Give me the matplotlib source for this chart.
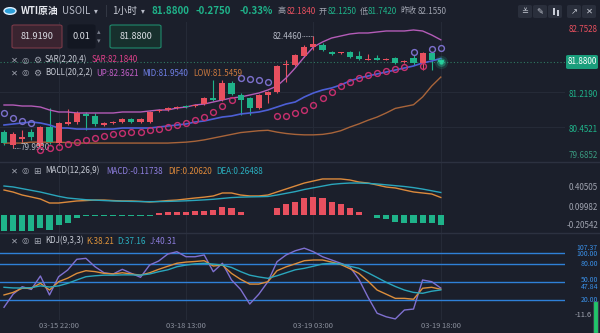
import numpy as np
import matplotlib.pyplot as plt
from matplotlib.patches import FancyBboxPatch, Circle, Rectangle
from matplotlib.lines import Line2D

plt.rcParams['font.family'] = ['Noto Sans CJK SC', 'DejaVu Sans']

# ---- data (1h bars, WTI) ----
opens = [80.34, 80.06, 80.19, 80.34, 80.04, 80.45, 80.10, 80.52, 80.56, 80.74,
         80.69, 80.50, 80.53, 80.56, 80.63, 80.56, 80.56, 80.80, 80.82, 80.87,
         80.92, 80.91, 80.95, 81.09, 81.04, 81.42, 81.15, 81.09, 80.87, 81.15,
         81.22, 81.80, 81.80, 82.01, 82.21, 82.25, 82.10, 82.07, 82.10, 82.01,
         81.92, 81.96, 81.93, 81.96, 81.87, 81.96, 81.85, 82.07, 81.93]
highs = [80.39, 80.34, 80.39, 80.40, 80.48, 80.87, 80.56, 80.85, 80.80, 80.78,
         80.76, 80.56, 80.58, 80.65, 80.66, 80.65, 80.80, 80.85, 80.89, 80.91,
         80.94, 80.96, 81.10, 81.48, 81.48, 81.46, 81.20, 81.12, 81.18, 81.25,
         81.82, 81.92, 82.05, 82.25, 82.446, 82.30, 82.12, 82.10, 82.12, 82.12,
         82.06, 82.04, 81.97, 81.98, 81.92, 82.02, 82.10, 82.10, 81.95]
lows = [80.06, 79.992, 80.10, 80.17, 80.00, 80.08, 80.06, 80.50, 80.52, 80.38,
        80.48, 80.47, 80.51, 80.54, 80.54, 80.54, 80.54, 80.78, 80.80, 80.85,
        80.87, 80.89, 80.93, 81.03, 81.02, 81.15, 80.72, 80.72, 80.85, 80.98,
        81.20, 81.44, 81.78, 81.99, 82.15, 82.12, 82.03, 82.06, 81.97, 81.93,
        81.91, 81.91, 81.92, 81.84, 81.85, 81.82, 81.70, 81.70, 81.85]
closes = [80.10, 80.30, 80.23, 80.23, 80.45, 80.12, 80.54, 80.56, 80.75, 80.69,
          80.52, 80.53, 80.56, 80.63, 80.56, 80.63, 80.79, 80.83, 80.87, 80.89,
          80.89, 80.94, 81.09, 81.05, 81.42, 81.18, 81.05, 80.87, 81.15, 81.22,
          81.79, 81.83, 82.03, 82.21, 82.26, 82.14, 82.05, 82.09, 81.99, 81.94,
          81.94, 81.92, 81.95, 81.85, 81.90, 81.85, 82.08, 81.93, 81.88]

boll_up = [80.934, 80.934, 80.912, 80.912, 80.890, 80.825, 80.781, 80.781, 80.759, 80.759,
           80.759, 80.759, 80.759, 80.781, 80.781, 80.781, 80.803, 80.825, 80.825, 80.868,
           80.890, 80.934, 80.956, 81.000, 81.044, 81.088, 81.110, 81.153, 81.197, 81.263,
           81.350, 81.526, 81.745, 81.986, 82.205, 82.315, 82.402, 82.446, 82.490, 82.512,
           82.512, 82.534, 82.556, 82.556, 82.556, 82.578, 82.556, 82.468, 82.3621]
boll_mid = [80.496, 80.518, 80.540, 80.562, 80.540, 80.496, 80.430, 80.430, 80.408, 80.408,
            80.408, 80.408, 80.408, 80.430, 80.430, 80.430, 80.430, 80.452, 80.474, 80.496,
            80.518, 80.562, 80.584, 80.628, 80.671, 80.693, 80.737, 80.759, 80.781, 80.825,
            80.890, 80.956, 81.000, 81.110, 81.197, 81.263, 81.307, 81.373, 81.460, 81.526,
            81.570, 81.614, 81.657, 81.701, 81.745, 81.789, 81.855, 81.898, 81.954]
boll_low = [80.10, 80.10, 80.10, 80.12, 80.12, 80.12, 80.12, 80.11, 80.10, 80.10,
            80.10, 80.10, 80.10, 80.10, 80.10, 80.10, 80.10, 80.10, 80.10, 80.11,
            80.12, 80.14, 80.17, 80.21, 80.25, 80.29, 80.33, 80.35, 80.37, 80.38,
            80.34, 80.31, 80.29, 80.28, 80.28, 80.29, 80.32, 80.37, 80.45, 80.52,
            80.60, 80.67, 80.76, 80.86, 80.90, 80.94, 81.11, 81.35, 81.5459]
sar = [80.759, 80.650, 80.584, 80.540, 79.948, 79.992, 80.014, 80.080, 80.124, 80.167,
       80.211, 80.255, 80.299, 80.321, 80.343, 80.343, 80.386, 80.408, 80.452, 80.496,
       80.540, 80.606, 80.671, 80.781, 80.912, 81.044, 81.526, 81.504, 81.482, 81.438,
       80.693, 80.693, 80.759, 80.825, 80.934, 81.088, 81.219, 81.350, 81.438, 81.526,
       81.592, 81.635, 81.679, 81.723, 81.767, 82.095, 81.789, 82.161, 82.184]

dif = [0.294, 0.27, 0.235, 0.212, 0.188, 0.141, 0.141, 0.153, 0.165, 0.17,
       0.176, 0.176, 0.17, 0.165, 0.165, 0.16, 0.153, 0.16, 0.17, 0.176,
       0.188, 0.2, 0.21, 0.224, 0.259, 0.259, 0.235, 0.224, 0.224, 0.235,
       0.271, 0.306, 0.341, 0.376, 0.4, 0.424, 0.424, 0.424, 0.412, 0.388,
       0.376, 0.353, 0.329, 0.318, 0.294, 0.271, 0.259, 0.247, 0.2062]
dea = [0.341, 0.33, 0.31, 0.29, 0.27, 0.245, 0.22, 0.2, 0.19, 0.18,
       0.175, 0.17, 0.165, 0.162, 0.16, 0.158, 0.157, 0.158, 0.16, 0.163,
       0.167, 0.172, 0.178, 0.185, 0.195, 0.205, 0.21, 0.213, 0.215, 0.218,
       0.235, 0.255, 0.275, 0.3, 0.32, 0.34, 0.36, 0.37, 0.376, 0.376,
       0.372, 0.365, 0.355, 0.345, 0.335, 0.322, 0.305, 0.285, 0.26488]
macd_hist = [-0.19, -0.19, -0.19, -0.19, -0.15, -0.18, -0.12, -0.09, -0.04, -0.012,
             -0.012, -0.012, -0.012, -0.012, -0.012, -0.012, -0.012, 0.02, 0.035, 0.035,
             0.035, 0.045, 0.05, 0.056, 0.09, 0.08, 0.035, -0.005, -0.005, 0.005,
             0.08, 0.125, 0.155, 0.205, 0.215, 0.195, 0.15, 0.125, 0.08, 0.03,
             -0.005, -0.03, -0.05, -0.08, -0.098, -0.098, -0.098, -0.098, -0.11738]

k_vals = [28.7, 33, 40, 40, 48.3, 37, 51, 57, 65, 69.5,
          68, 65, 64, 66, 64, 62, 66, 71.8, 77, 82,
          84, 85, 86.3, 77.4, 79, 65, 55, 47, 47, 51,
          69.5, 76, 81, 86.3, 87.5, 87.5, 84, 80, 73, 65,
          52, 37, 30, 23, 23, 21.5, 40, 41.6, 38.21]
d_vals = [41.6, 40.5, 40.4, 41, 44, 42, 44, 48.3, 54, 59.4,
          61, 62, 62, 62.5, 62.5, 62, 64, 67.8, 71, 76.2,
          79, 81, 82, 80.5, 79, 75, 68, 62, 59, 56.7,
          61, 66, 71, 73.5, 77, 80.8, 82, 81, 77, 73.5,
          66, 58, 50, 43, 37, 33, 31.5, 35, 37.16]
j_vals = [8, 30, 42.6, 38, 60.6, 28.7, 59.4, 70.7, 88.7, 90.3,
          76.2, 66, 64, 71.8, 65, 58.4, 79, 85.8, 97.6, 101.4,
          93, 93, 96, 67.8, 82, 54, 38, 13.5, 30, 51,
          84.6, 96, 103, 107.37, 101.4, 93, 87.5, 82, 76.2, 55,
          25, -2, -8, -11.6, 3.4, 5, 53.9, 51, 40.31]

time_idx = [6, 20, 34, 48]
time_labels = ['03-15 22:00', '03-18 13:00', '03-19 03:00', '03-19 18:00']
price_ticks = [82.7528, 81.2190, 80.4521, 79.6852]
macd_ticks = ['0.40505', '0.09982', '-0.20542']
kdj_levels = [100, 80, 50, 20]

# ---- colours ----
BG = '#1b1f2b'
GRID = '#252a37'
UPC = '#e8505f'
DNC = '#1fb38a'
GRAY = '#b4b8c4'

W, H = 600, 333
fig = plt.figure(figsize=(6, 3.33), dpi=100, facecolor=BG)


def px_axes(x0, y0, x1, y1):
    ax = fig.add_axes([x0 / W, 1 - y1 / H, (x1 - x0) / W, (y1 - y0) / H])
    ax.set_facecolor(BG)
    ax.set_axis_off()
    ax.set_xlim(-0.44, (x1 - 4) / 9.1)
    return ax


def ftext(x, y, s, color=GRAY, size=6, **kw):
    kw.setdefault('va', 'center')
    return fig.text(x / W, 1 - y / H, s, color=color, fontsize=size, **kw)


def fbox(x0, y0, w, h, fc, ec='none', lw=0):
    fig.add_artist(FancyBboxPatch((x0 / W, 1 - (y0 + h) / H), w / W, h / H,
                                  boxstyle='round,pad=0,rounding_size=0.004',
                                  transform=fig.transFigure, facecolor=fc,
                                  edgecolor=ec, lw=lw))


x = np.arange(len(closes))
o, h, l, c = map(np.array, (opens, highs, lows, closes))
up = c >= o
cols = np.where(up, UPC, DNC)

# ---- main price panel ----
ax = px_axes(0, 22, 565, 162)
ax.set_ylim(79.6852, 82.7528)
for t in time_idx:
    ax.axvline(t, color=GRID, lw=0.8, zorder=0)
for p in price_ticks[1:3]:
    ax.axhline(p, color=GRID, lw=0.8, zorder=0)
ax.vlines(x, l, h, color=cols, lw=0.8, zorder=2)
ax.bar(x, np.maximum(np.abs(c - o), 0.012), bottom=np.minimum(o, c),
       width=0.68, color=cols, zorder=3)
ax.plot(x, boll_up, color='#b45cb8', lw=1.0, zorder=2)
ax.plot(x, boll_mid, color='#4d5fd6', lw=1.2, zorder=2)
ax.plot(x, boll_low, color='#a8643a', lw=1.0, zorder=2)
sar_a = np.array(sar)
below = sar_a < c
ax.plot(x[below], sar_a[below], 'o', ms=4.2, mfc='none', mec='#c8306e', mew=1.0, zorder=4)
ax.plot(x[~below], sar_a[~below], 'o', ms=4.2, mfc='none', mec='#7c70cc', mew=1.0, zorder=4)
ax.axhline(c[-1], color='#2f7a62', lw=0.8, ls=(0, (1, 2)), zorder=1)
for s_, a_ in [(90, 0.15), (40, 0.35), (10, 0.9)]:
    ax.scatter([x[-1]], [c[-1]], s=s_, color='#28d4a0', alpha=a_, lw=0, zorder=5)
ih, il = int(np.argmax(h)), int(np.argmin(l))
ax.plot([ih - 1.2, ih], [h[ih], h[ih]], color=GRAY, lw=0.6, ls=(0, (1, 1)))
ax.text(ih - 1.3, h[ih], '%.4f' % h[ih], color=GRAY, fontsize=5.8, ha='right', va='center')
ax.plot([il, il + 0.8], [l[il], l[il]], color=GRAY, lw=0.6, ls=(0, (1, 1)))
ax.text(il + 0.8, l[il], '%.4f' % l[il], color=GRAY, fontsize=5.8, ha='left', va='center')

# ---- MACD panel ----
ax2 = px_axes(0, 162, 565, 233)
ax2.set_ylim(-0.2118, 0.6235)
for t in time_idx:
    ax2.axvline(t, color=GRID, lw=0.8, zorder=0)
hv = np.array(macd_hist)
ax2.bar(x, hv, width=0.68, color=np.where(hv > 0, UPC, DNC), zorder=2)
ax2.plot(x, dif, color='#dc8a3c', lw=1.0, zorder=3)
ax2.plot(x, dea, color='#2aa6bc', lw=1.0, zorder=3)

# ---- KDJ panel ----
ax3 = px_axes(0, 233, 565, 320)
ax3.set_ylim(-13.4, 132.9)
for t in time_idx:
    ax3.axvline(t, color=GRID, lw=0.8, zorder=0)
for lv in kdj_levels:
    ax3.axhline(lv, color='#2f80d8', lw=1.0, zorder=1)
ax3.plot(x, j_vals, color='#7f70d0', lw=1.0, zorder=2)
ax3.plot(x, k_vals, color='#dc8e3c', lw=1.0, zorder=3)
ax3.plot(x, d_vals, color='#2aa6bc', lw=1.0, zorder=3)

# panel separators
for yy in (162, 233):
    fig.add_artist(Line2D([0, 1], [1 - yy / H] * 2, color='#2c3140', lw=1.0))

# ---- header ----
fig.add_artist(Circle((10 / W, 1 - 11 / H), 6 / W, transform=fig.transFigure,
                      facecolor='#2d9fd8', edgecolor='#dfefff', lw=1.0))
ftext(21, 11, 'WTI原油', color='#e6e8ee', size=7, weight='bold')
ftext(62, 11, 'USOIL', color='#b8bcc8', size=7)
ftext(94, 11, '▾', color='#b8bcc8', size=5.5, family=['DejaVu Sans'])
ftext(105, 11, '|', color='#3a3f4c', size=8)
ftext(112, 11, '1小时', color='#c8ccd6', size=7)
ftext(141, 11, '▾', color='#b8bcc8', size=5.5, family=['DejaVu Sans'])
ftext(152, 11, '81.8800', color=DNC, size=7, weight='bold')
ftext(196, 11, '-0.2750', color=DNC, size=7, weight='bold')
ftext(239, 11, '-0.33%', color=DNC, size=7, weight='bold')
ftext(278, 11, '高', color='#a0a4b0', size=5.8)
ftext(287, 11, '82.1840', color=UPC, size=5.8)
ftext(319, 11, '开', color='#a0a4b0', size=5.8)
ftext(328, 11, '82.1250', color=DNC, size=5.8)
ftext(360, 11, '低', color='#a0a4b0', size=5.8)
ftext(368, 11, '81.7420', color=DNC, size=5.8)
ftext(400, 11, '昨收', color='#a0a4b0', size=5.8)
ftext(418, 11, '82.1550', color='#a0a4b0', size=5.8)
for bx in [518, 533, 548, 567, 582]:
    fbox(bx, 5, 14, 13, '#2a2f3c')
ftext(525, 11.5, '≚', color='#c8ccd6', size=6, ha='center', family=['DejaVu Sans'])
ftext(540, 11.5, '✎', color='#c8ccd6', size=6, ha='center', family=['DejaVu Sans'])
# candle icon
for cx, y0, hh in [(553, 8, 7), (557, 10, 6)]:
    fig.add_artist(Rectangle((cx / W, 1 - (y0 + hh) / H), 2.2 / W, hh / H,
                             transform=fig.transFigure, facecolor='#c8ccd6', lw=0))
ftext(574, 11.5, '↗', color='#c8ccd6', size=6, ha='center', family=['DejaVu Sans'])
ftext(589, 11.5, '✕', color='#c8ccd6', size=6, ha='center', family=['DejaVu Sans'])

# order boxes
for bx0, bx1, fc, ec, txt in [(12, 62, '#3a2430', '#7a3a48', '81.9190'),
                              (68, 95, '#131722', '#131722', '0.01'),
                              (110, 161, '#17302d', '#1f8a6c', '81.8800')]:
    fbox(bx0, 25, bx1 - bx0, 23, fc, ec, 0.8)
    ftext((bx0 + bx1) / 2, 36.5, txt, color='#d8dbe2', size=6.6, ha='center')
ftext(99, 32, '▴', color='#7a7f8c', size=5, ha='center', family=['DejaVu Sans'])
ftext(99, 41, '▾', color='#7a7f8c', size=5, ha='center', family=['DejaVu Sans'])


# indicator legends
def icons(y, third='⚙'):
    ftext(11, y, '✕', color='#a0a4b0', size=6, family=['DejaVu Sans'])
    ftext(22, y, '◎', color='#a0a4b0', size=6, family=['DejaVu Sans'])
    ftext(33, y, third, color='#a0a4b0', size=6.5, family=['DejaVu Sans'])


icons(60)
ftext(45, 60, 'SAR(2,20,4)', color='#c8ccd6', size=5.8)
ftext(92, 60, 'SAR:82.1840', color='#e0408a', size=5.8)
icons(73)
ftext(45, 73, 'BOLL(20,2,2)', color='#c8ccd6', size=5.8)
ftext(96, 73, 'UP:82.3621', color='#c25fc8', size=5.8)
ftext(142, 73, 'MID:81.9540', color='#6f7fe6', size=5.8)
ftext(193, 73, 'LOW:81.5459', color='#c9783f', size=5.8)
icons(171, '⊞')
ftext(45, 171, 'MACD(12,26,9)', color='#c8ccd6', size=5.8)
ftext(106, 171, 'MACD:-0.11738', color='#8f7fe0', size=5.8)
ftext(168, 171, 'DIF:0.20620', color='#e08a3a', size=5.8)
ftext(216, 171, 'DEA:0.26488', color='#2ab0c0', size=5.8)
icons(241, '⊞')
ftext(45, 241, 'KDJ(9,3,3)', color='#c8ccd6', size=5.8)
ftext(86, 241, 'K:38.21', color='#e0943a', size=5.8)
ftext(117, 241, 'D:37.16', color='#2ab0c0', size=5.8)
ftext(150, 241, 'J:40.31', color='#8f7fe0', size=5.8)

# ---- right axis labels ----
for p, yy, col in zip(price_ticks, [29, 94, 129, 156], [UPC, DNC, DNC, '#3a9a80']):
    ftext(598, yy, '%.4f' % p, color=col, size=5.8, ha='right')
fbox(566, 55, 32, 14, '#1a9e7c')
ftext(582, 62, '%.4f' % c[-1], color='white', size=5.8, ha='center')
for s, yy in zip(macd_ticks, [187, 207, 226]):
    ftext(598, yy, s, color='#a0a4b0', size=5.8, ha='right')
for s, yy in [('107.37', 247.5), ('100.00', 254.5), ('80.00', 264.5), ('50.00', 279.5),
              ('47.84', 287), ('20.00', 300)]:
    ftext(598, yy, s, color='#3a90e8', size=5.0, ha='right')
ftext(592, 315, '-11.6', color='#a0a4b0', size=5.4, ha='right')
fig.add_artist(Rectangle((593 / W, 0), 5 / W, 32 / H, transform=fig.transFigure,
                         facecolor='#22c46a', edgecolor='#3a3f4c', lw=0.8))

# ---- time axis ----
for t, s in zip(time_idx, time_labels):
    ftext(4 + 9.1 * t, 326, s, color='#8a8f9c', size=5.4, ha='center')

fig.savefig('out.png', dpi=100, facecolor=BG)
